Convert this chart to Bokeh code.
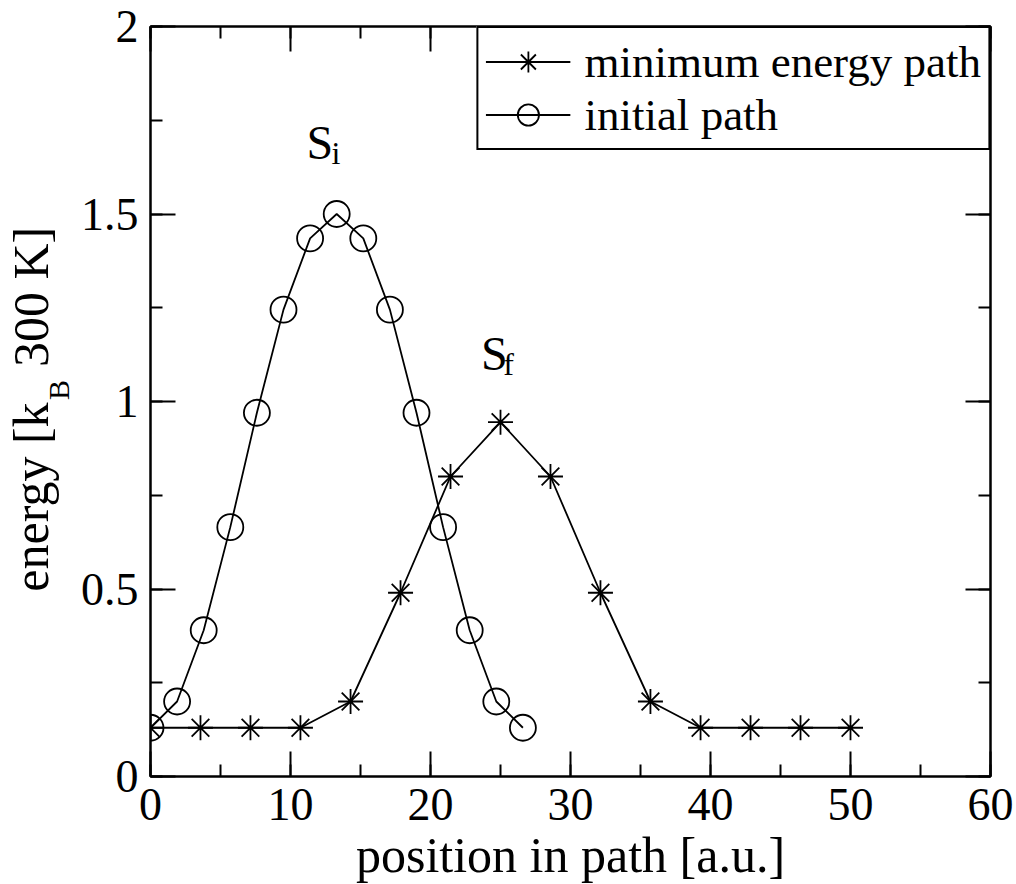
import math
from bokeh.plotting import figure
from bokeh.layouts import row
from bokeh.models import (LinearAxis, SingleIntervalTicker, Range1d, Label, Legend,
                          LegendItem, CustomJSTickFormatter)
from bokeh.core.properties import value
from bokeh.embed import file_html
from bokeh.resources import INLINE

FONT = "Liberation Serif"

# ---- data ----
mep_x = [0.0, 3.57, 7.14, 10.71, 14.29, 17.86, 21.43, 25.0, 28.57, 32.14, 35.71, 39.29, 42.86, 46.43, 50.0]
mep_y = [0.13, 0.13, 0.13, 0.13, 0.20, 0.49, 0.80, 0.945, 0.80, 0.49, 0.20, 0.13, 0.13, 0.13, 0.13]
init_x = [0.0, 1.9, 3.8, 5.7, 7.6, 9.5, 11.4, 13.3, 15.2, 17.1, 19.0, 20.9, 22.8, 24.7, 26.6]
init_y = [0.13, 0.20, 0.39, 0.665, 0.97, 1.245, 1.435, 1.50, 1.435, 1.245, 0.97, 0.665, 0.39, 0.20, 0.13]
series_names = ["minimum energy path", "initial path"]

x_label = "position in path [a.u.]"
y_label_parts = ["energy [k", "B", "300 K]"]
ann_main = ["S", "S"]
ann_sub = ["i", "f"]

# annotation anchor positions (data units)
ann_main_x = [11.14, 23.6]
ann_main_y = [1.69, 1.127]
ann_sub_x = [12.93, 25.2]
ann_sub_y = [1.663, 1.101]

p = figure(frame_width=840, frame_height=750,
           x_range=Range1d(0, 60), y_range=Range1d(0, 2),
           output_backend="svg", toolbar_location=None,
           min_border_left=75, min_border_right=26, min_border_top=26, min_border_bottom=108,
           background_fill_color="white", border_fill_color="white")
p.xgrid.visible = False
p.ygrid.visible = False
p.outline_line_color = "black"
p.outline_line_width = 2

def style_axis(ax, show_labels, standoff):
    ax.axis_line_width = 2
    ax.axis_line_color = "black"
    ax.major_tick_line_width = 2
    ax.minor_tick_line_width = 2
    ax.major_tick_line_color = "black"
    ax.minor_tick_line_color = "black"
    ax.major_tick_in = 25
    ax.major_tick_out = 0
    ax.minor_tick_in = 12
    ax.minor_tick_out = 0
    ax.major_label_standoff = standoff
    if show_labels:
        ax.major_label_text_font = FONT
        ax.major_label_text_font_size = "46px"
        ax.major_label_text_color = "black"
    else:
        ax.formatter = CustomJSTickFormatter(code="return ''")
        ax.major_label_text_font_size = "1px"

xa = p.xaxis[0]
xa.ticker = SingleIntervalTicker(interval=10, num_minor_ticks=2)
style_axis(xa, True, 12)
xa.axis_label = x_label
xa.axis_label_text_font = FONT
xa.axis_label_text_font_size = "50px"
xa.axis_label_text_font_style = "normal"
xa.axis_label_text_color = "black"
xa.axis_label_standoff = 4

ya = p.yaxis[0]
ya.ticker = SingleIntervalTicker(interval=0.5, num_minor_ticks=2)
style_axis(ya, True, 12)
ya.major_label_overrides = {0: "0", 1: "1", 2: "2"}

top = LinearAxis(ticker=SingleIntervalTicker(interval=10, num_minor_ticks=2))
style_axis(top, False, 0)
p.add_layout(top, "above")
right = LinearAxis(ticker=SingleIntervalTicker(interval=0.5, num_minor_ticks=2))
style_axis(right, False, 0)
p.add_layout(right, "right")

# ---- series ----
l1 = p.line(mep_x, mep_y, line_color="black", line_width=1.8)
s1 = p.scatter(mep_x, mep_y, marker="asterisk", size=25, line_color="black", line_width=1.8)
l2 = p.line(init_x, init_y, line_color="black", line_width=1.8)
s2 = p.scatter(init_x, init_y, marker="circle", size=26, line_color="black",
               line_width=1.8, fill_color=None)

legend = Legend(items=[LegendItem(label=series_names[0], renderers=[l1, s1]),
                       LegendItem(label=series_names[1], renderers=[l2, s2])],
                location="top_right", margin=0, padding=7, spacing=0,
                glyph_width=85, glyph_height=53, label_height=53, label_standoff=14,
                label_text_font=FONT, label_text_font_size="45px", label_text_color="black",
                border_line_color="black", border_line_width=2, border_line_alpha=1.0,
                background_fill_color="white", background_fill_alpha=1.0)
p.add_layout(legend)

# ---- text annotations ----
for t, x, y in zip(ann_main, ann_main_x, ann_main_y):
    p.add_layout(Label(x=x, y=y, text=t, text_font=FONT, text_font_size="48px",
                       text_color="black", text_align="left", text_baseline="alphabetic"))
for t, x, y in zip(ann_sub, ann_sub_x, ann_sub_y):
    p.add_layout(Label(x=x, y=y, text=t, text_font=FONT, text_font_size="32px",
                       text_color="black", text_align="left", text_baseline="alphabetic"))

# ---- y axis title in a narrow side panel ----
# the side panel's frame is aligned with the main frame (page y 26..776);
# its ranges are set so that its coordinates equal page pixels
side = figure(width=75, height=884, x_range=Range1d(0, 75), y_range=Range1d(776, 26),
              output_backend="svg", toolbar_location=None,
              min_border_left=0, min_border_right=0, min_border_top=26, min_border_bottom=108,
              x_axis_type=None, y_axis_type=None,
              background_fill_color="white", border_fill_color="white")
side.outline_line_color = None
side.xgrid.visible = False
side.ygrid.visible = False
ylab_x = [30, 58, 30]
ylab_y = [592, 400, 367]
side.text(x=[ylab_x[0], ylab_x[2]], y=[ylab_y[0], ylab_y[2]],
          text=[y_label_parts[0], y_label_parts[2]], angle=math.pi / 2,
          text_font=value(FONT), text_font_size="50px", text_color="black",
          text_align="left", text_baseline="alphabetic")
side.text(x=[ylab_x[1]], y=[ylab_y[1]], text=[y_label_parts[1]], angle=math.pi / 2,
          text_font=value(FONT), text_font_size="30px", text_color="black",
          text_align="left", text_baseline="alphabetic")

layout = row(side, p, spacing=0)
open("out.html", "w").write(file_html(layout, INLINE))
